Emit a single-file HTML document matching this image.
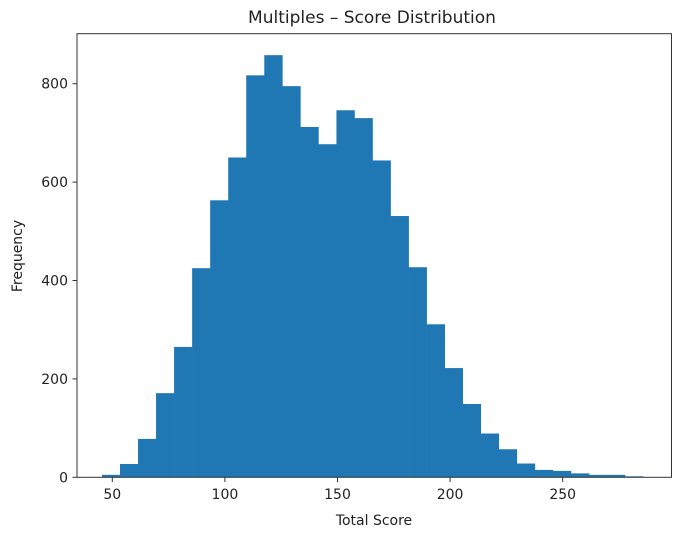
<!DOCTYPE html>
<html><head><meta charset="utf-8"><style>
body{margin:0;background:#fff;}
svg text{font-family:"DejaVu Sans","Liberation Sans",sans-serif;fill:#222;}
</style></head><body>
<svg id="chart" width="678" height="534" viewBox="0 0 678 534" xmlns="http://www.w3.org/2000/svg">
<text x="372" y="23" font-size="17" text-anchor="middle">Multiples – Score Distribution</text>
<g id="bars"></g>
<rect x="77" y="33.7" width="594.5" height="443.6" fill="none" stroke="#333" stroke-width="1"/>
<g id="xticks"></g>
<g id="yticks"></g>
<text x="374" y="525" font-size="14" text-anchor="middle">Total Score</text>
<text x="22" y="256" font-size="14" text-anchor="middle" transform="rotate(-90 22 256)">Frequency</text>
</svg>
<script>
const binStart = 45.4;
const binWidth = 8.01;
const counts = [5,27,78,171,265,425,563,650,817,858,795,712,677,746,730,644,531,427,311,222,149,89,57,28,15,13,8,5,5,2];
const xTicks = [50,100,150,200,250];
const yTicks = [0,200,400,600,800];
const ns = "http://www.w3.org/2000/svg";
function xs(v){return 112.3 + (v-50)*2.252;}
function ys(v){return 477.3 - v*0.492;}
const bars = document.getElementById('bars');
counts.forEach((c,i)=>{
  const r = document.createElementNS(ns,'rect');
  const x0 = xs(binStart+i*binWidth), x1 = xs(binStart+(i+1)*binWidth);
  r.setAttribute('x',x0); r.setAttribute('width',x1-x0+0.3);
  r.setAttribute('y',ys(c)); r.setAttribute('height',ys(0)-ys(c));
  r.setAttribute('fill','#1f77b4');
  
  
  bars.appendChild(r);
});
const xg = document.getElementById('xticks');
xTicks.forEach(t=>{
  const l = document.createElementNS(ns,'line');
  l.setAttribute('x1',xs(t)); l.setAttribute('x2',xs(t));
  l.setAttribute('y1',477.3); l.setAttribute('y2',482);
  l.setAttribute('stroke','#333');
  
  
  xg.appendChild(l);
  const tx = document.createElementNS(ns,'text');
  tx.setAttribute('x',xs(t)); tx.setAttribute('y',499);
  tx.setAttribute('font-size','14'); tx.setAttribute('text-anchor','middle');
  tx.textContent = t;
  
  
  xg.appendChild(tx);
});
const yg = document.getElementById('yticks');
yTicks.forEach(t=>{
  const l = document.createElementNS(ns,'line');
  l.setAttribute('x1',72.5); l.setAttribute('x2',77);
  l.setAttribute('y1',ys(t)); l.setAttribute('y2',ys(t));
  l.setAttribute('stroke','#333');
  
  
  yg.appendChild(l);
  const tx = document.createElementNS(ns,'text');
  tx.setAttribute('x',68); tx.setAttribute('y',ys(t)+5);
  tx.setAttribute('font-size','14'); tx.setAttribute('text-anchor','end');
  tx.textContent = t;
  
  
  yg.appendChild(tx);
});
</script>
</body></html>
